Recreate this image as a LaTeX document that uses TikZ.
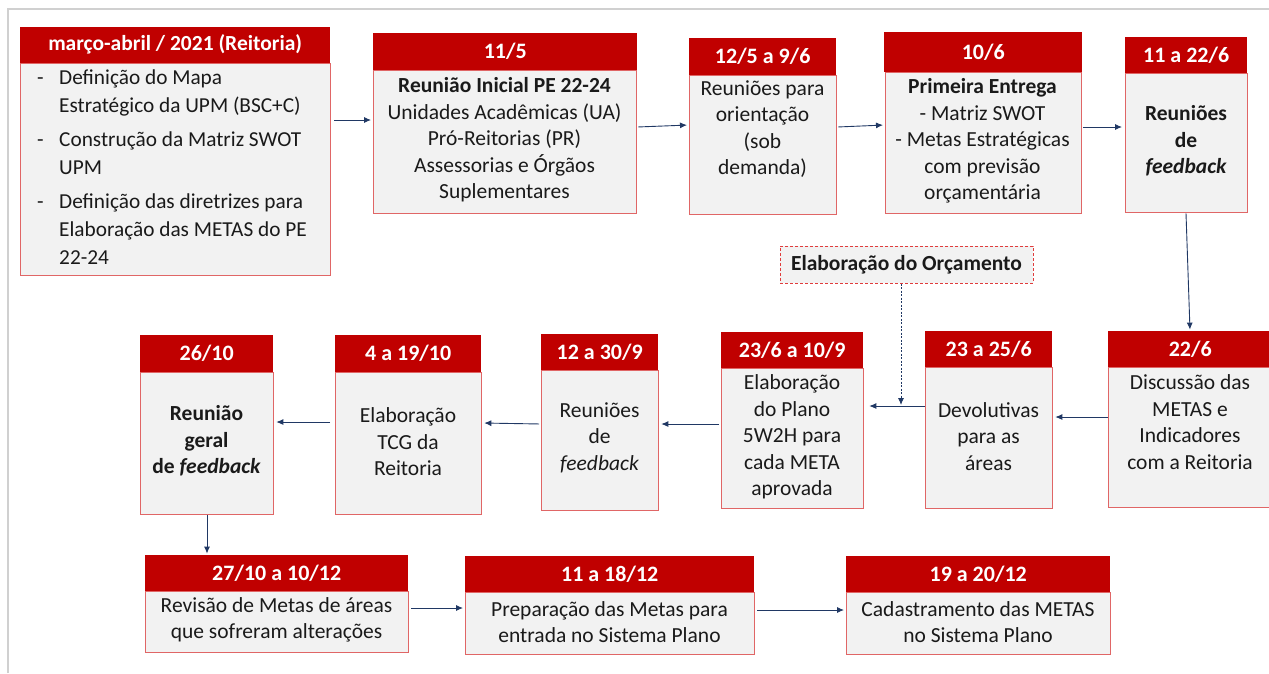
\documentclass[tikz,border=0pt]{standalone}
\usepackage{fontspec}
\setmainfont{Carlito}
\usetikzlibrary{arrows.meta,calc}
\definecolor{hdred}{HTML}{C00000}
\definecolor{bdred}{HTML}{E06666}
\definecolor{dashred}{HTML}{E03C3C}
\definecolor{bodyg}{HTML}{F2F2F2}
\definecolor{navy}{HTML}{203864}
\definecolor{frameg}{HTML}{D0D0D0}
\definecolor{ink}{HTML}{1A1A1A}
\begin{document}
\begin{tikzpicture}[x=1pt,y=-1pt,
  body/.style={draw=bdred, fill=bodyg, line width=1.3pt, anchor=north west, inner sep=0pt},
  head/.style={fill=hdred, anchor=south west, inner sep=0pt, text=white, font=\fontsize{22}{24}\selectfont\bfseries},
  txt/.style={align=center, inner sep=0pt, text=ink, font=\fontsize{21.5}{26.5}\selectfont},
  btxt/.style={txt, font=\fontsize{21.5}{26.5}\selectfont\bfseries},
  arr/.style={draw=navy, line width=0.9pt, -{Latex[length=7pt,width=6pt]}},
  darr/.style={draw=navy, line width=0.9pt, dash pattern=on 2pt off 1.5pt, -{Latex[length=7pt,width=6pt]}},
]
\useasboundingbox (0,0) rectangle (1269,673);
\fill[white] (0,0) rectangle (1269,673);
\draw[frameg, line width=1.2pt] (8,673) -- (8,9) -- (1269,9);

% Box 1
\node[body, minimum width=310pt, minimum height=212pt] (b1) at (20,63) {};
\node[head, minimum width=310pt, minimum height=36pt, font=\fontsize{21.5}{24}\selectfont\bfseries] (h1) at (20,63) {março-abril / 2021 (Reitoria)};
\node[anchor=west, align=left, inner sep=0pt, text=ink, font=\fontsize{21.3}{28}\selectfont] (t1) at (37,167) {%
\makebox[22pt][l]{-}Definição do Mapa\\
\hspace*{22pt}Estratégico da UPM (BSC+C)\\[6pt]
\makebox[22pt][l]{-}Construção da Matriz SWOT\\
\hspace*{22pt}UPM\\[6pt]
\makebox[22pt][l]{-}Definição das diretrizes para\\
\hspace*{22pt}Elaboração das METAS do PE\\
\hspace*{22pt}22-24};

% Box 2
\node[body, minimum width=263pt, minimum height=143pt] (b2) at (373,70) {};
\node[head, minimum width=264pt, minimum height=37pt] (h2) at (373,70) {11/5};
\node[txt] (t2) at (504.5,140) {{\bfseries Reunião Inicial PE 22-24}\\Unidades Acadêmicas (UA)\\Pró-Reitorias (PR)\\Assessorias e Órgãos\\Suplementares};

% Box 3
\node[body, minimum width=147pt, minimum height=139pt] (b3) at (689,75) {};
\node[head, minimum width=147pt, minimum height=37pt] (h3) at (689,75) {12/5 a 9/6};
\node[txt] (t3) at (762.5,129) {Reuniões para\\orientação\\(sob\\demanda)};

% Box 4
\node[body, minimum width=196pt, minimum height=141pt] (b4) at (885,72) {};
\node[head, minimum width=198pt, minimum height=40pt] (h4) at (884,72) {10/6};
\node[txt] (t4) at (982.5,141) {{\bfseries Primeira Entrega}\\- Matriz SWOT\\- Metas Estratégicas\\com previsão\\orçamentária};

% Box 5
\node[body, minimum width=122pt, minimum height=139pt] (b5) at (1125,73) {};
\node[head, minimum width=122pt, minimum height=36pt] (h5) at (1125,73) {11 a 22/6};
\node[btxt] (t5) at (1186,141) {Reuniões\\de\\\itshape feedback};

% Elaboração do Orçamento
\node[draw=dashred, dash pattern=on 3pt off 2pt, line width=1pt, fill=bodyg, minimum width=253pt, minimum height=37pt, inner sep=0pt, text=ink, font=\fontsize{21.5}{24}\selectfont\bfseries] (orc) at (906.5,264.5) {Elaboração do Orçamento};

% 22/6
\node[body, minimum width=164pt, minimum height=140pt] (b6) at (1108,367) {};
\node[head, minimum width=164pt, minimum height=36pt] (h6) at (1108,367) {22/6};
\node[txt] (t6) at (1190,422) {Discussão das\\METAS e\\Indicadores\\com a Reitoria};

% 23 a 25/6
\node[body, minimum width=127pt, minimum height=141pt] (b7) at (925,367) {};
\node[head, minimum width=127pt, minimum height=36pt] (h7) at (925,367) {23 a 25/6};
\node[txt] (t7) at (988.5,436.5) {Devolutivas\\para as\\áreas};

% 23/6 a 10/9
\node[body, minimum width=142pt, minimum height=140pt] (b8) at (721,368) {};
\node[head, minimum width=142pt, minimum height=36pt] (h8) at (721,368) {23/6 a 10/9};
\node[txt] (t8) at (792,437) {Elaboração\\do Plano\\5W2H para\\cada META\\aprovada};

% 12 a 30/9
\node[body, minimum width=117pt, minimum height=140pt] (b9) at (541,370) {};
\node[head, minimum width=117pt, minimum height=36pt] (h9) at (541,370) {12 a 30/9};
\node[txt] (t9) at (599.5,437.5) {Reuniões\\de\\\itshape feedback};

% 4 a 19/10
\node[body, minimum width=146pt, minimum height=142pt] (b10) at (335,372) {};
\node[head, minimum width=146pt, minimum height=37pt] (h10) at (335,372) {4 a 19/10};
\node[txt] (t10) at (408,442) {Elaboração\\TCG da\\Reitoria};

% 26/10
\node[body, minimum width=133pt, minimum height=142pt] (b11) at (140,372) {};
\node[head, minimum width=133pt, minimum height=37pt] (h11) at (140,372) {26/10};
\node[btxt] (t11) at (206.5,441) {Reunião\\geral\\de \itshape feedback};

% 27/10 a 10/12
\node[body, minimum width=263pt, minimum height=61pt] (b12) at (145,591) {};
\node[head, minimum width=263pt, minimum height=36pt] (h12) at (145,591) {27/10 a 10/12};
\node[txt] (t12) at (276.5,620) {Revisão de Metas de áreas\\que sofreram alterações};

% 11 a 18/12
\node[body, minimum width=289pt, minimum height=62pt] (b13) at (465,592) {};
\node[head, minimum width=289pt, minimum height=36pt] (h13) at (465,592) {11 a 18/12};
\node[txt] (t13) at (609.5,622) {Preparação das Metas para\\entrada no Sistema Plano};

% 19 a 20/12
\node[body, minimum width=264pt, minimum height=62pt] (b14) at (846,592) {};
\node[head, minimum width=264pt, minimum height=36pt] (h14) at (846,592) {19 a 20/12};
\node[txt] (t14) at (978,622) {Cadastramento das METAS\\no Sistema Plano};

% connectors
\draw[arr, shorten <=3pt, shorten >=2pt] (b1.east |- 0,120) -- (b2.west |- 0,120);
\draw[arr, shorten <=1pt, shorten >=2pt] (b2.east |- 0,127) -- (b3.west |- 0,125);
\draw[arr, shorten <=1pt, shorten >=2pt] (b3.east |- 0,127) -- (b4.west |- 0,125);
\draw[arr, shorten <=1pt, shorten >=3pt] (b4.east |- 0,127) -- (b5.west |- 0,127);
\draw[arr, shorten >=1pt] (b5.south -| 1186,0) -- (h6.north -| 1190,0);
\draw[arr, shorten >=2pt] (b6.west |- 0,417) -- (b7.east |- 0,417);
\draw[arr, shorten >=5pt] (b7.west |- 0,406) -- (b8.east |- 0,406);
\coordinate (dj) at (901,405);
\draw[darr] (orc.south -| dj) -- (dj);
\draw[arr, shorten <=2pt, shorten >=2pt] (b8.west |- 0,424) -- (b9.east |- 0,424);
\draw[arr, shorten <=2pt, shorten >=2pt] (b9.west |- 0,424) -- (b10.east |- 0,423);
\draw[arr, shorten <=5pt, shorten >=2pt] (b10.west |- 0,422) -- (b11.east |- 0,422);
\draw[arr, shorten >=1pt] (b11.south -| 207,0) -- (h12.north -| 207,0);
\draw[arr, shorten <=2pt, shorten >=2pt] (b12.east |- 0,608) -- (b13.west |- 0,608);
\draw[arr, shorten <=2pt, shorten >=2pt] (b13.east |- 0,610) -- (b14.west |- 0,610);
\end{tikzpicture}
\end{document}
